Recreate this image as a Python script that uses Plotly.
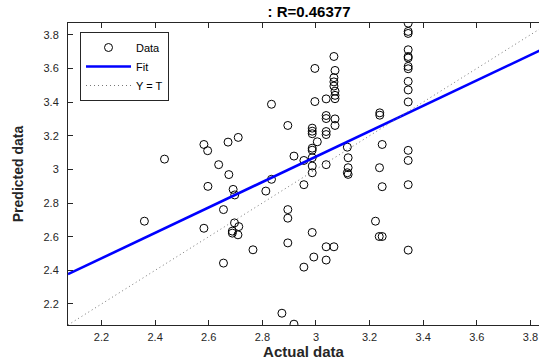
import plotly.graph_objects as go

# ---- data ----
actual = [
    3.344, 3.344, 3.344, 3.344, 3.344, 3.344, 3.344, 3.344, 3.344, 3.344, 3.344, 3.344, 3.344, 3.344, 3.344,
    3.238, 3.238, 3.247, 3.237, 3.247, 3.222, 3.236, 3.247,
    3.117, 3.120, 3.120, 3.117, 3.120,
    3.067, 3.071, 3.067, 3.067, 3.067, 3.071, 3.071, 3.071, 3.071, 3.071, 3.067,
    3.038, 3.038, 3.038, 3.038, 3.038, 3.038, 3.038, 3.038,
    2.996, 2.996, 2.986, 2.986, 2.986, 3.005, 2.986, 2.986, 2.986, 2.986, 2.986, 2.986, 2.992,
    2.955, 2.955, 2.955,
    2.918, 2.918,
    2.895, 2.895, 2.895, 2.895,
    2.873,
    2.834, 2.834,
    2.813, 2.765,
    2.710, 2.672, 2.582, 2.596, 2.435, 2.637, 2.675, 2.597, 2.691, 2.697,
    2.655, 2.360, 2.582, 2.696, 2.712, 2.688, 2.688, 2.709, 2.655,
]
predicted = [
    3.869, 3.820, 3.808, 3.711, 3.671, 3.662, 3.612, 3.598, 3.523, 3.472, 3.401, 3.113, 3.053, 2.909, 2.520,
    3.336, 3.322, 3.148, 3.010, 2.897, 2.692, 2.601, 2.601,
    3.132, 3.069, 3.010, 2.980, 2.970,
    3.671, 3.588, 3.545, 3.520, 3.495, 3.465, 3.440, 3.420, 3.300, 3.261, 2.540,
    3.419, 3.320, 3.302, 3.225, 3.207, 3.028, 2.540, 2.461,
    3.600, 3.403, 3.245, 3.227, 3.212, 3.164, 3.126, 3.114, 3.069, 3.020, 2.980, 2.625, 2.479,
    3.053, 2.909, 2.419,
    3.079, 2.080,
    3.261, 2.761, 2.710, 2.563,
    2.145,
    3.387, 2.941,
    2.871, 2.522,
    3.190, 3.162, 3.148, 3.111, 3.061, 3.028, 2.969, 2.899, 2.881, 2.848,
    2.761, 2.692, 2.650, 2.682, 2.660, 2.633, 2.621, 2.611, 2.443,
]

fit_x = [2.075, 3.87]
fit_y = [2.377, 3.733]
identity_x = [2.075, 3.87]
identity_y = [2.075, 3.87]

x_range = [2.075, 3.832]
y_range = [2.075, 3.87]
tick_vals = [2.2, 2.4, 2.6, 2.8, 3.0, 3.2, 3.4, 3.6, 3.8]
tick_text = ["2.2", "2.4", "2.6", "2.8", "3", "3.2", "3.4", "3.6", "3.8"]

title_text = ": R=0.46377"

FONT = "Liberation Sans, Arial, Helvetica, sans-serif"
AX = "#262626"

fig = go.Figure()
fig.add_trace(go.Scatter(
    x=actual, y=predicted, mode="markers", name="Data",
    marker=dict(symbol="circle-open", size=8, color="black", line=dict(width=1, color="black")),
))
fig.add_trace(go.Scatter(
    x=fit_x, y=fit_y, mode="lines", name="Fit",
    line=dict(color="#0000FF", width=2.6),
))
fig.add_trace(go.Scatter(
    x=identity_x, y=identity_y, mode="lines", name="Y = T",
    line=dict(color="#777777", width=1, dash="1px,3px"),
))

fig.update_layout(
    width=539, height=360,
    margin=dict(l=68, r=0, t=23, b=35, autoexpand=False),
    paper_bgcolor="white", plot_bgcolor="white",
    font=dict(family=FONT, size=11, color=AX),
    title=dict(text="<b>" + title_text + "</b>", x=309 / 539, xref="container", xanchor="center",
               y=1 - 12 / 360, yref="container", yanchor="middle",
               font=dict(family=FONT, size=15, color="black")),
    showlegend=True,
    legend=dict(x=(80 - 68) / 471, y=(325 - 32) / 302, xanchor="left", yanchor="top",
                bgcolor="white", bordercolor=AX, borderwidth=1,
                font=dict(family=FONT, size=11, color="black"),
                tracegroupgap=0, itemwidth=45),
    xaxis=dict(range=x_range, tickvals=tick_vals, ticktext=tick_text,
               showgrid=False, zeroline=False, showline=True, linecolor=AX, linewidth=1,
               mirror="ticks", ticks="inside", ticklen=5, tickcolor=AX,
               tickfont=dict(family=FONT, size=11, color=AX), ticklabelstandoff=2,
               title=dict(text="<b>Actual data</b>", standoff=2,
                          font=dict(family=FONT, size=15, color=AX)),
               automargin=False),
    yaxis=dict(range=y_range, tickvals=tick_vals, ticktext=tick_text,
               showgrid=False, zeroline=False, showline=True, linecolor=AX, linewidth=1,
               mirror=False, ticks="inside", ticklen=5, tickcolor=AX,
               tickfont=dict(family=FONT, size=11, color=AX), ticklabelstandoff=6,
               title=dict(text="<b>Predicted data</b>", standoff=16,
                          font=dict(family=FONT, size=14, color=AX)),
               automargin=False),
)

fig.write_html("out.html", config={"displayModeBar": False},
               post_script="document.body.style.margin='0px';document.body.style.overflow='hidden';")
